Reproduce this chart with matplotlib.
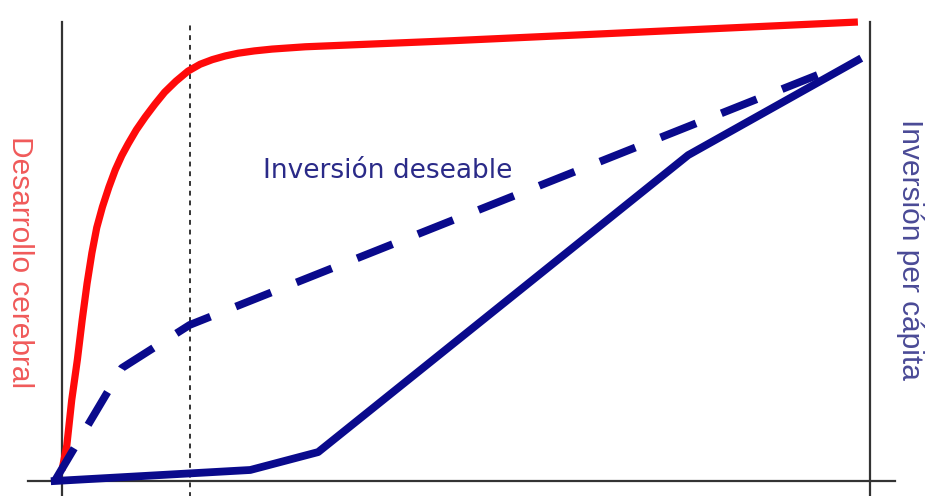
import numpy as np
import matplotlib.pyplot as plt

# --- data (x: age axis 0-100, y: 0-100) ------------------------------------
red_x = [0.0, 0.6, 1.2, 1.9, 2.5, 3.1, 3.7, 4.3, 5.0, 5.8, 6.6, 7.4, 8.2, 9.2, 10.3, 11.5,
         12.7, 14.1, 15.6, 17.1, 18.6, 20.2, 21.8, 23.8, 26.0, 30.1, 48.0, 66.6, 98.5]
red_y = [2.4, 7.8, 17.6, 26.4, 35.1, 43.0, 49.7, 55.2, 59.7, 64.0, 67.8, 70.9, 73.5, 76.5, 79.3, 82.1,
         84.7, 87.1, 89.3, 90.8, 91.8, 92.6, 93.2, 93.7, 94.1, 94.6, 95.9, 97.4, 100.0]

solid_x = [-0.9, 23.3, 31.7, 77.5, 98.5]
solid_y = [0.0, 2.4, 6.3, 71.0, 91.7]

dash_x = [-0.9, 7.4, 15.8, 95.0]
dash_y = [0.0, 24.6, 34.0, 89.5]

cutoff_x = 15.8   # dotted vertical line

red = '#ff0a0a'
navy = '#0a0a8c'
axis_col = '#333333'

fig = plt.figure(figsize=(9.25, 4.96), dpi=100)
ax = fig.add_axes([62/925, 15/496, 808/925, 459/496])
ax.set_xlim(0, 100)
ax.set_ylim(0, 100)
ax.axis('off')

# axes lines
ax.axhline(0, xmin=-0.042, xmax=1.031, color=axis_col, lw=1.6, clip_on=False, zorder=1)
ax.axvline(0, ymin=-0.035, ymax=1, color=axis_col, lw=1.6, clip_on=False, zorder=1)
ax.axvline(100, ymin=-0.035, ymax=1, color=axis_col, lw=1.6, clip_on=False, zorder=1)
ax.axvline(cutoff_x, ymin=-0.035, ymax=1, color=axis_col, lw=1.4, ls=(0, (2.5, 2.5)),
           clip_on=False, zorder=1)

# curves
ax.plot(red_x, red_y, color=red, lw=5.2, solid_capstyle='butt', solid_joinstyle='round',
        clip_on=False, zorder=3)
ax.plot(solid_x, solid_y, color=navy, lw=5.6, solid_joinstyle='round', clip_on=False, zorder=4)
ax.plot(dash_x, dash_y, color=navy, lw=5.6, ls=(0, (4.9, 3.5)), clip_on=False, zorder=4)

# labels
ax.text(-5.2, 47.7, 'Desarrollo cerebral', rotation=270, color='#f05a5a',
        fontsize=21.5, family='Liberation Sans', ha='center', va='center')
ax.text(104.9, 50.5, 'Inversión per cápita', rotation=270, color='#4a4a96',
        fontsize=21.5, family='Liberation Sans', ha='center', va='center')
ax.text(24.9, 67.6, 'Inversión deseable', color='#2a2a88',
        fontsize=19, family='DejaVu Sans', ha='left', va='center')

fig.savefig('out.png', dpi=100)
